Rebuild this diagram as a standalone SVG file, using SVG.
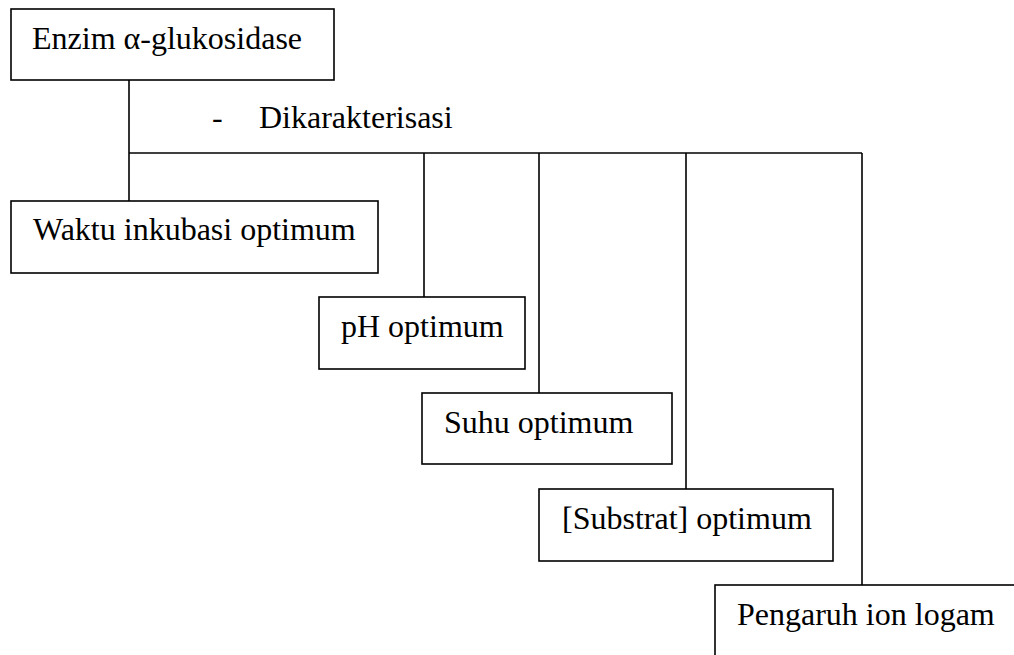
<svg xmlns="http://www.w3.org/2000/svg" width="1014" height="655" viewBox="0 0 1014 655">
<style>
.box{fill:#fff;stroke:#000;stroke-width:1.6}
.ln{fill:none;stroke:#000;stroke-width:1.6}
text{font-family:"Liberation Serif","Times New Roman",serif;font-size:32px;fill:#000}
</style>
<rect width="1014" height="655" fill="#fff"/>
<g id="connectors">
<path class="ln" d="M129 80V201"/>
<path class="ln" d="M129 153H862"/>
<path class="ln" d="M424 153V297"/>
<path class="ln" d="M539 153V393"/>
<path class="ln" d="M686 153V489"/>
<path class="ln" d="M862 153V585"/>
<text x="212" y="128">-</text>
<text x="259" y="128">Dikarakterisasi</text>
</g>
<g id="enzim"><rect class="box" x="11" y="9" width="323" height="71"/><text x="32" y="49">Enzim α-glukosidase</text></g>
<g id="waktu"><rect class="box" x="11" y="201" width="367" height="72"/><text x="33" y="240">Waktu inkubasi optimum</text></g>
<g id="ph"><rect class="box" x="319" y="297" width="206" height="72"/><text x="341" y="337">pH optimum</text></g>
<g id="suhu"><rect class="box" x="422" y="393" width="250" height="71"/><text x="444" y="433">Suhu optimum</text></g>
<g id="substrat"><rect class="box" x="539" y="489" width="294" height="72"/><text x="562" y="529">[Substrat] optimum</text></g>
<g id="pengaruh"><rect class="box" x="715" y="585" width="320" height="90"/><text x="737" y="625">Pengaruh ion logam</text></g>
</svg>
